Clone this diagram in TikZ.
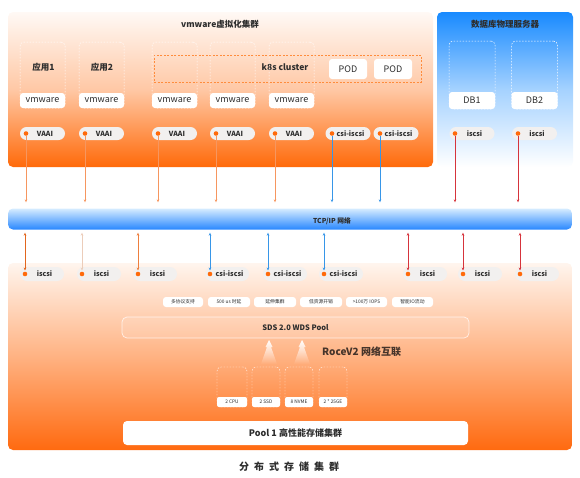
\documentclass[tikz,border=0pt]{standalone}
\usepackage{fontspec}
\setmainfont{Noto Sans CJK SC}
\usetikzlibrary{arrows.meta,fadings,calc}
\definecolor{org}{RGB}{255,106,10}
\definecolor{txt}{RGB}{45,45,45}
\definecolor{pillgray}{RGB}{242,240,239}
\definecolor{arrO}{RGB}{246,150,95}
\definecolor{arrB}{RGB}{55,150,232}
\definecolor{arrR}{RGB}{214,52,60}
\definecolor{lowO1}{RGB}{226,102,30}
\definecolor{lowO2}{RGB}{236,205,186}
\definecolor{lowO3}{RGB}{238,127,62}
\definecolor{kdash}{RGB}{255,140,60}
\definecolor{roce}{RGB}{70,52,42}
\newcommand\fsz[1]{\fontsize{#1pt}{#1pt}\selectfont}
\tikzset{
  colbox/.style={draw=white, dash pattern=on 1.5pt off 1.5pt, line width=0.5pt, rounded corners=4pt, minimum width=45pt, minimum height=66pt, inner sep=0pt},
  hostbox/.style={fill=white, rounded corners=3pt, minimum width=45pt, minimum height=15pt, inner sep=0pt, font=\fsz{9}, text=txt},
  pill/.style={fill=pillgray, rounded corners=6.5pt, minimum height=13pt, minimum width=45pt, inner sep=0pt, font=\bfseries\fsz{7}, text=txt},
  dot/.style={circle, fill=org, minimum size=4.6pt, inner sep=0pt},
  lbl/.style={font=\bfseries\fsz{8.5}, text=txt, inner sep=0pt},
  tag/.style={fill=white, rounded corners=3pt, minimum height=10pt, inner sep=0pt, font=\fsz{4.8}, text=txt},
  hwbox/.style={draw=white, dash pattern=on 1.5pt off 1.5pt, line width=0.4pt, rounded corners=4pt, minimum height=40pt, inner sep=0pt},
  hwlbl/.style={fill=white, rounded corners=2pt, minimum height=10pt, inner sep=0pt, font=\fsz{4.8}, text=txt},
  downarr/.style={line width=0.6pt, -{Stealth[length=3pt,width=2.6pt]}, shorten >=6pt},
  duoarr/.style={line width=0.6pt, {Stealth[length=3pt,width=2.6pt]}-{Stealth[length=3pt,width=2.6pt]}, shorten <=3pt, shorten >=1pt},
}
\begin{document}
\begin{tikzpicture}[x=1pt,y=-1pt]
\useasboundingbox (0,0) rectangle (580,477);
% panels
\node[rounded corners=5pt, minimum width=425pt, minimum height=155pt, inner sep=0pt,
  top color={rgb,255:red,255;green,249;blue,245}, bottom color=org, middle color={rgb,255:red,255;green,200;blue,165}] (vmpanel) at (220.5,89.5) {};
\node[rounded corners=5pt, minimum width=136pt, minimum height=155pt, inner sep=0pt,
  top color={rgb,255:red,24;green,138;blue,255}, bottom color=white, middle color={rgb,255:red,165;green,210;blue,255}] (dbpanel) at (505,89.5) {};
\node[rounded corners=5pt, minimum width=564pt, minimum height=187pt, inner sep=0pt,
  top color={rgb,255:red,255;green,245;blue,238}, bottom color={rgb,255:red,255;green,106;blue,16}, middle color={rgb,255:red,255;green,178;blue,130}] (sdspanel) at (290,356.5) {};
% titles
\node[lbl] (vmtitle) at (220,24) {vmware虚拟化集群};
\node[lbl] (dbtitle) at (505,24) {数据库物理服务器};
% k8s
\node[draw=kdash, dash pattern=on 2pt off 1.5pt, line width=0.7pt, minimum width=267pt, minimum height=27pt, inner sep=0pt] (k8s) at (287.5,68.5) {};
\node[lbl] (k8slbl) at (285,67.5) {k8s cluster};
\node[hostbox, minimum width=38pt, minimum height=20pt] (pod1) at (348,69) {POD};
\node[hostbox, minimum width=38pt, minimum height=20pt] (pod2) at (393,69) {POD};
% columns
\foreach \n/\x in {1/42.5,2/101.5,3/174.5,4/232.5,5/291.5}{
  \node[colbox] (col\n) at (\x,75) {};
  \node[hostbox] (vm\n) at (\x,100.5) {vmware};
}
\node[lbl] (app1) at (43.5,67) {应用1};
\node[lbl] (app2) at (102,67) {应用2};
\node[colbox, minimum width=46pt, minimum height=68pt] (dbcol1) at (472,75) {};
\node[colbox, minimum width=46pt, minimum height=68pt] (dbcol2) at (534.5,75) {};
\node[hostbox, minimum width=46pt, minimum height=17pt] (db1) at (472,100.5) {DB1};
\node[hostbox, minimum width=46pt, minimum height=17pt] (db2) at (534.5,100.5) {DB2};
% top pills
\foreach \n/\x/\t/\dx in {1/42.5/VAAI/26,2/101.5/VAAI/85,3/174.5/VAAI/158,4/232.5/VAAI/216,5/291.5/VAAI/275,6/348/csi-iscsi/332,7/396/csi-iscsi/380,8/472/iscsi/455,9/534.5/iscsi/518}{
  \node[pill] (tp\n) at (\x,133.5) {\hspace{5pt}\t};
  \node[dot] (td\n) at (\dx,133.5) {};
}
% network bar
\node[rounded corners=5pt, minimum width=564pt, minimum height=21pt, inner sep=0pt,
  top color={rgb,255:red,214;green,236;blue,255}, bottom color={rgb,255:red,40;green,135;blue,255}] (net) at (290,219) {};
\node[font=\bfseries\fsz{6.8}, text=txt, inner sep=0pt] (netlbl) at (332,221) {TCP/IP 网络};
% top arrows
\foreach \n/\c in {1/arrO,2/arrO,3/arrO,4/arrO,5/arrO,6/arrB,7/arrB,8/arrR,9/arrR}{
  \draw[downarr, \c] (td\n) -- (td\n |- net.north);
}
% lower pills
\foreach \n/\l/\t in {1/20/iscsi,2/77/iscsi,3/133/iscsi,4/205/csi-iscsi,5/263/csi-iscsi,6/319/csi-iscsi,7/403/iscsi,8/458/iscsi,9/515/iscsi}{
  \node[pill, minimum width=44pt, minimum height=14pt, rounded corners=7pt] (bp\n) at (\l+22,274) {\hspace{5pt}\t};
  \node[dot] (bd\n) at (\l+5,274) {};
}
\foreach \n/\c in {1/lowO1,2/lowO2,3/lowO3,4/arrB,5/arrB,6/arrB,7/arrR,8/arrR,9/arrR}{
  \draw[duoarr, \c] (net.south -| bd\n) -- (bd\n);
}
% tags
\node[tag, minimum width=40pt] (tag1) at (183,302) {多协议支持};
\node[tag, minimum width=42pt] (tag2) at (229,302) {500 us 时延};
\node[tag, minimum width=42pt] (tag3) at (275,302) {延伸集群};
\node[tag, minimum width=42pt] (tag4) at (321,302) {低资源开销};
\node[tag, minimum width=41pt] (tag5) at (366.5,302) {>100万 IOPS};
\node[tag, minimum width=41pt] (tag6) at (412.5,302) {智能IO流动};
% SDS pool
\node[draw=white, draw opacity=0.75, fill=white, fill opacity=0.12, text opacity=1, line width=0.7pt, rounded corners=5pt, minimum width=347pt, minimum height=21pt, inner sep=0pt, font=\bfseries\fsz{7.5}, text=txt] (sds) at (295.5,327.5) {SDS 2.0 WDS Pool};
% spire arrows
\foreach \x in {269,302}{
  \fill[white, path fading=south] (\x,340) -- (\x+3.5,347) -- (\x+2,347) -- (\x+8,364) -- (\x-8,364) -- (\x-2,347) -- (\x-3.5,347) -- cycle;
}
\node[font=\bfseries\fsz{10}, text=roce, anchor=west, inner sep=0pt] (rocelbl) at (322,351.5) {RoceV2 网络互联};
% hardware
\node[hwbox, minimum width=30pt] (hw1) at (232,387) {};
\node[hwbox, minimum width=28pt] (hw2) at (266,387) {};
\node[hwbox, minimum width=28pt] (hw3) at (299,387) {};
\node[hwbox, minimum width=28pt] (hw4) at (333,387) {};
\node[hwlbl, minimum width=30pt] (hl1) at (232,402) {2 CPU};
\node[hwlbl, minimum width=28pt] (hl2) at (266,402) {2 SSD};
\node[hwlbl, minimum width=28pt] (hl3) at (299,402) {8 NVME};
\node[hwlbl, minimum width=28pt] (hl4) at (333,402) {2 * 25GE};
% pool 1
\node[fill=white, rounded corners=4pt, minimum width=345pt, minimum height=24pt, inner sep=0pt, font=\bfseries\fsz{9}, text=txt] (pool1) at (295.5,433) {Pool 1 高性能存储集群};
% bottom title
\node[font=\bfseries\fsz{10}, text=txt, inner sep=0pt] (maintitle) at (289,467) {分\hspace{5pt}布\hspace{5pt}式\hspace{5pt}存\hspace{5pt}储\hspace{5pt}集\hspace{5pt}群};
\end{tikzpicture}
\end{document}
